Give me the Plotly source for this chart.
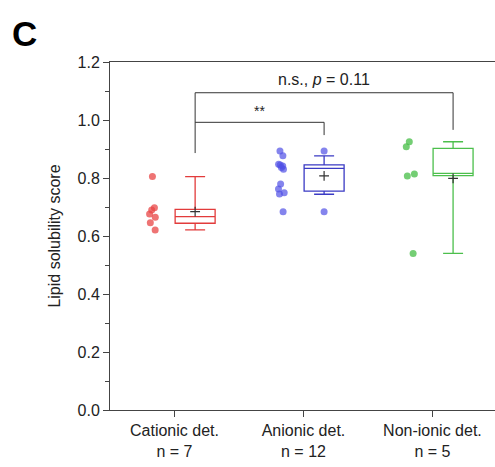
import plotly.graph_objects as go

# Group labels and individual lipid solubility scores
categories = ["Cationic det.<br>n = 7", "Anionic det.<br>n = 12", "Non-ionic det.<br>n = 5"]
cationic = [0.805, 0.697, 0.690, 0.676, 0.665, 0.646, 0.621]
anionic = [0.893, 0.877, 0.847, 0.845, 0.841, 0.836, 0.830, 0.779, 0.762, 0.749, 0.745, 0.684]
nonionic = [0.925, 0.908, 0.814, 0.807, 0.540]

# Box summaries per group
q1 = [0.644, 0.755, 0.808]
median = [0.667, 0.833, 0.816]
q3 = [0.692, 0.845, 0.902]
lower_whisker = [0.621, 0.744, 0.540]
upper_whisker = [0.805, 0.876, 0.925]
means = [0.684, 0.807, 0.799]
anionic_outliers = [0.893, 0.684]

yticks = [0.0, 0.2, 0.4, 0.6, 0.8, 1.0, 1.2]

line_colors = ["#e23b3b", "#3a3ac4", "#4cbf4c"]
dot_colors = ["rgba(232,70,70,0.75)", "rgba(80,80,230,0.7)", "rgba(70,190,70,0.75)"]
groups = [cationic, anionic, nonionic]

BOX_SHIFT = 0.16
DOT_SHIFT = -0.17
WIDTH = 0.31
FONT = "Liberation Sans, Arial, sans-serif"

fig = go.Figure()

for i, vals in enumerate(groups):
    # jittered raw points to the left of each category
    fig.add_trace(go.Box(
        y=vals, x0=i + DOT_SHIFT, width=WIDTH,
        boxpoints="all", jitter=0.25, pointpos=0,
        line=dict(width=0, color="rgba(0,0,0,0)"),
        fillcolor="rgba(0,0,0,0)",
        marker=dict(color=dot_colors[i], size=7),
        showlegend=False, hoverinfo="y",
    ))
    # box with whiskers to the right of each category
    fig.add_trace(go.Box(
        x=[i + BOX_SHIFT], q1=[q1[i]], median=[median[i]], q3=[q3[i]],
        lowerfence=[lower_whisker[i]], upperfence=[upper_whisker[i]],
        width=WIDTH, whiskerwidth=0.5, boxpoints=False,
        line=dict(color=line_colors[i], width=1.3),
        fillcolor="rgba(255,255,255,0)",
        showlegend=False,
    ))

# outliers of the anionic box
fig.add_trace(go.Scatter(
    x=[1 + BOX_SHIFT] * len(anionic_outliers), y=anionic_outliers,
    mode="markers", marker=dict(color=dot_colors[1], size=7),
    showlegend=False,
))

# group means
fig.add_trace(go.Scatter(
    x=[i + BOX_SHIFT for i in range(3)], y=means, mode="markers",
    marker=dict(symbol="cross-thin", size=7, line=dict(color="#333333", width=1.2)),
    showlegend=False,
))

# significance brackets
bracket = dict(color="#333333", width=1)
c0, c1, c2 = BOX_SHIFT, 1 + BOX_SHIFT, 2 + BOX_SHIFT
fig.add_shape(type="path", path=f"M {c0},0.886 L {c0},1.094 L {c2},1.094 L {c2},0.966",
              xref="x", yref="y", line=bracket)
fig.add_shape(type="path", path=f"M {c0},0.992 L {c1},0.992 L {c1},0.948",
              xref="x", yref="y", line=bracket)
fig.add_annotation(x=(c0 + c1) / 2, y=1.03, text="**", showarrow=False,
                   font=dict(size=14, family=FONT, color="#222"), xref="x", yref="y")
fig.add_annotation(x=(c0 + c2) / 2, y=1.138, text="n.s., <i>p</i> = 0.11", showarrow=False,
                   font=dict(size=16, family=FONT, color="#222"), xref="x", yref="y")

# panel letter, placed in the top-left corner of the figure
fig.add_annotation(x=-0.26, y=1.083, xref="paper", yref="paper", text="<b>C</b>",
                   showarrow=False, font=dict(size=35, family=FONT, color="black"),
                   xanchor="left", yanchor="middle")

fig.update_layout(
    width=495, height=467,
    margin=dict(l=110, r=0, t=62, b=57),
    paper_bgcolor="white", plot_bgcolor="white",
    font=dict(family=FONT, size=16, color="#222"),
    xaxis=dict(
        range=[-0.5, 2.485], tickmode="array", tickvals=[0, 1, 2], ticktext=categories,
        showline=True, linecolor="#444", linewidth=1, mirror=True,
        ticks="outside", ticklen=6, tickcolor="#444", showgrid=False, zeroline=False,
    ),
    yaxis=dict(
        range=[0, 1.2], tickmode="array", tickvals=yticks,
        ticktext=[f"{v:.1f}" for v in yticks],
        showline=True, linecolor="#444", linewidth=1,
        ticks="outside", ticklen=6, tickcolor="#444", showgrid=False, zeroline=False,
        minor=dict(dtick=0.1, ticks="outside", ticklen=4, tickcolor="#444", showgrid=False),
        title=dict(text="Lipid solubility score", standoff=12, font=dict(size=16)),
    ),
)

fig.write_html("out.html")
